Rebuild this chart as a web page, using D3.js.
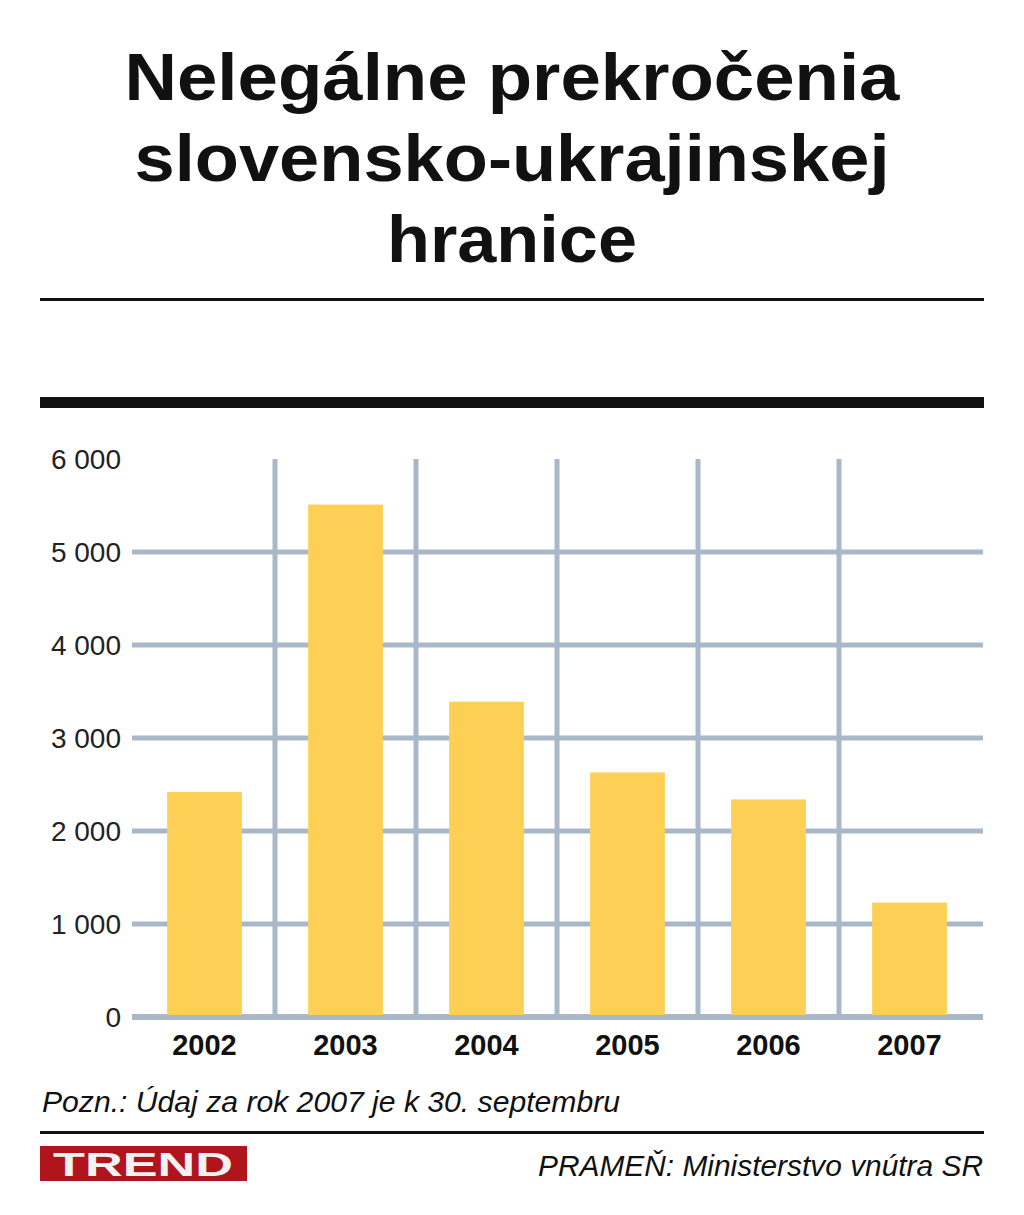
<!DOCTYPE html>
<html>
<head>
<meta charset="utf-8">
<title>Nelegálne prekročenia slovensko-ukrajinskej hranice</title>
<style>
  body { margin: 0; background: #fff; }
  text { font-family: "Liberation Sans Narrow", "Liberation Sans", Arial, sans-serif; }
</style>
</head>
<body>
<svg id="chart" width="1024" height="1215"></svg>
<script src="https://d3js.org/d3.v7.min.js"></script>
<script>
var years = ["2002", "2003", "2004", "2005", "2006", "2007"];
var values = [2420, 5510, 3390, 2630, 2340, 1230];
var yTicks = [0, 1000, 2000, 3000, 4000, 5000, 6000];
var titleLines = ["Nelegálne prekročenia", "slovensko-ukrajinskej", "hranice"];

var svg = d3.select('#chart');

// title
var titleW = [775, 755, 250];
svg.selectAll('.title').data(titleLines).enter().append('text')
  .attr('x', 512).attr('y', function(d, i) { return 100 + i * 81; })
  .attr('text-anchor', 'middle')
  .attr('font-size', 66).attr('font-weight', 'bold').attr('fill', '#111')
  .attr('textLength', function(d, i) { return titleW[i]; })
  .attr('lengthAdjust', 'spacingAndGlyphs')
  .text(function(d) { return d; });

svg.append('rect').attr('x', 40).attr('y', 298).attr('width', 944).attr('height', 3).attr('fill', '#111');
svg.append('rect').attr('x', 40).attr('y', 397).attr('width', 944).attr('height', 11).attr('fill', '#111');

// scales
var x = d3.scaleBand().domain(years).range([134, 980]).paddingInner(0.47).paddingOuter(0.235);
var y = d3.scaleLinear().domain([0, 6000]).range([1017, 459]);
var step = x.step();
var grid = '#a9b8c8';

// vertical grid lines between bands
svg.selectAll('.vgrid').data(years.slice(1)).enter().append('line')
  .attr('x1', function(d) { return x(d) - x.paddingInner() * step / 2; })
  .attr('x2', function(d) { return x(d) - x.paddingInner() * step / 2; })
  .attr('y1', y(6000)).attr('y2', y(0))
  .attr('stroke', grid).attr('stroke-width', 5);

// horizontal grid lines
svg.selectAll('.hgrid').data(yTicks.filter(function(d) { return d < 6000; })).enter().append('line')
  .attr('x1', 132).attr('x2', 983)
  .attr('y1', function(d) { return y(d); }).attr('y2', function(d) { return y(d); })
  .attr('stroke', grid).attr('stroke-width', function(d) { return d === 0 ? 6 : 5; });

// bars
svg.selectAll('.bar').data(values).enter().append('rect')
  .attr('x', function(d, i) { return x(years[i]); })
  .attr('width', x.bandwidth())
  .attr('y', function(d) { return y(d); })
  .attr('height', function(d) { return y(0) - y(d) - 2; })
  .attr('fill', '#fdd055');

// y labels
var fmt = function(d) { return d3.format(',')(d).replace(',', ' '); };
svg.selectAll('.ylab').data(yTicks).enter().append('text')
  .attr('x', 121).attr('y', function(d) { return y(d) + 10; })
  .attr('text-anchor', 'end').attr('font-size', 28).attr('fill', '#222')
  .text(fmt);

// x labels
svg.selectAll('.xlab').data(years).enter().append('text')
  .attr('x', function(d) { return x(d) + x.bandwidth() / 2; })
  .attr('y', 1055).attr('text-anchor', 'middle')
  .attr('font-size', 29).attr('font-weight', 'bold').attr('fill', '#111')
  .text(function(d) { return d; });

// note
svg.append('text').attr('x', 42).attr('y', 1112)
  .attr('font-size', 30).attr('font-style', 'italic').attr('fill', '#111')
  .attr('textLength', 578).attr('lengthAdjust', 'spacingAndGlyphs')
  .text('Pozn.: Údaj za rok 2007 je k 30. septembru');

svg.append('rect').attr('x', 40).attr('y', 1131).attr('width', 944).attr('height', 3).attr('fill', '#111');

// logo
svg.append('rect').attr('x', 40).attr('y', 1146).attr('width', 207).attr('height', 35).attr('fill', '#b0141c');
svg.append('text').attr('x', 143).attr('y', 1176).attr('text-anchor', 'middle')
  .attr('font-size', 34).attr('font-weight', 'bold').attr('fill', '#f2f2f2')
  .attr('font-family', '"Liberation Sans", Arial, sans-serif')
  .attr('textLength', 180).attr('lengthAdjust', 'spacingAndGlyphs')
  .text('TREND');

// source
svg.append('text').attr('x', 983).attr('y', 1176).attr('text-anchor', 'end')
  .attr('font-size', 30).attr('font-style', 'italic').attr('fill', '#111')
  .attr('textLength', 445).attr('lengthAdjust', 'spacingAndGlyphs')
  .text('PRAMEŇ: Ministerstvo vnútra SR');
</script>
</body>
</html>
